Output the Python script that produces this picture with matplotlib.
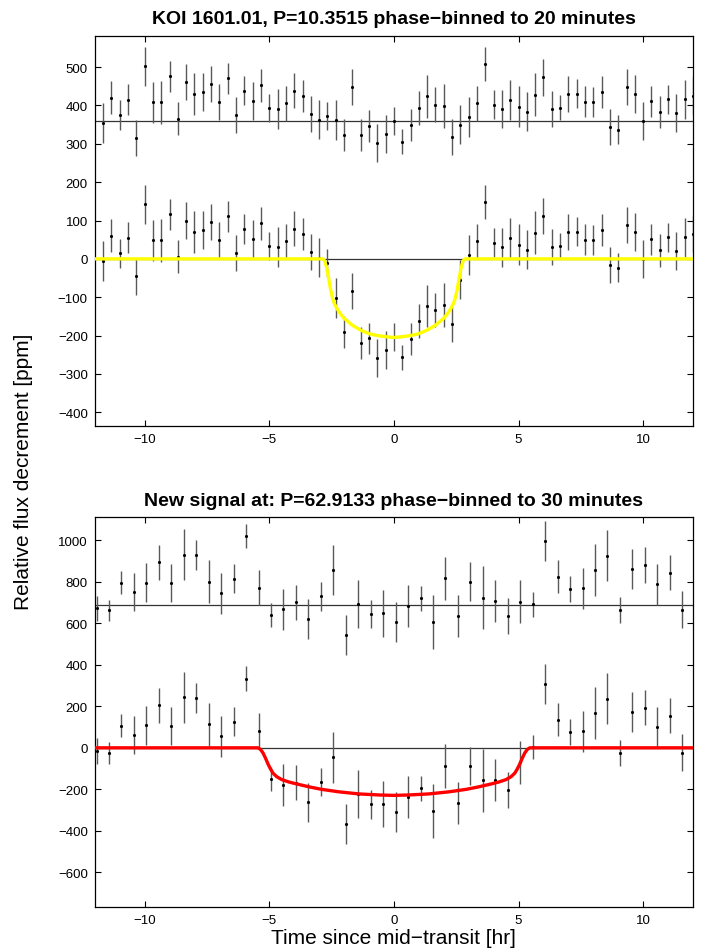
import numpy as np
import matplotlib
matplotlib.use("Agg")
import matplotlib.pyplot as plt

plt.rcParams['font.family'] = ['Liberation Sans', 'DejaVu Sans']

# ── KOI 1601.01, phase-binned to 20 minutes ─────────────────────────────────
t_koi = np.arange(-35, 37) / 3.0
flux_koi = [-6, 60, 14, 55, -46, 142, 48, 48, 116, 6,
            100, 70, 75, 96, 50, 111, 15, 79, 52, 93,
            33, 31, 46, 79, 65, 19, 3, -10, -103, -190,
            -83, -220, -207, -258, -237, -204, -257, -210, -163, -123,
            -134, -121, -170, -54, 9, 46, 148, 42, 30, 55,
            37, 24, 68, 113, 30, 34, 70, 71, 50, 49,
            75, -17, -23, 88, 70, 0, 51, 23, 56, 20,
            56, 65]
resid_koi = [-6, 60, 14, 55, -46, 142, 48, 48, 116, 6,
             100, 70, 75, 96, 50, 111, 15, 79, 52, 93,
             33, 31, 46, 79, 65, 19, 3, 12, 3, -38,
             88, -37, -14, -58, -34, 0, -54, -10, 33, 64,
             42, 38, -43, -10, 9, 46, 148, 42, 30, 55,
             37, 24, 68, 113, 30, 34, 70, 71, 50, 49,
             75, -17, -23, 88, 70, 0, 51, 23, 56, 20,
             56, 65]
err_koi = [52, 43, 39, 41, 47, 51, 53, 57, 41, 44,
           47, 55, 50, 46, 47, 41, 47, 39, 49, 43,
           37, 53, 46, 46, 42, 47, 51, 37, 52, 42,
           47, 42, 41, 50, 49, 36, 32, 42, 44, 56,
           45, 58, 47, 50, 52, 46, 44, 38, 50, 52,
           53, 51, 56, 47, 47, 33, 48, 37, 41, 39,
           42, 47, 38, 47, 49, 49, 40, 43, 37, 50,
           51, 48]
offset_koi = 360
model_koi_t = [-12, -2.85, -2.78, -2.70, -2.62, -2.54, -2.46, -2.38, -2.28, -2.15,
               -2.0, -1.67, -1.33, -1.0, -0.67, -0.33, 0,
               0.33, 0.67, 1.0, 1.33, 1.67, 2.0, 2.15, 2.28, 2.38,
               2.46, 2.54, 2.62, 2.70, 2.78, 2.85, 12]
model_koi_f = [0, 0, -5, -22, -50, -80, -103, -118, -130, -143,
               -155, -173, -186, -195, -200, -203, -205,
               -203, -200, -195, -186, -173, -155, -143, -130, -118,
               -103, -80, -50, -22, -5, 0, 0]

# ── new signal, phase-binned to 30 minutes ──────────────────────────────────
t_new = -11.93 + 0.5 * np.arange(48)
flux_new = [-17, -26, 107, 62, 108, 205, 107, 243, 241, 113,
            56, 126, 333, 80, -149, -179, -168, -263, -165, -46,
            -367, -222, -272, -271, -309, -237, -195, -305, -88, -264,
            -88, -157, -154, -205, -69, 4, 306, 136, 76, 80,
            168, 237, -26, 173, 193, 100, 155, -23]
resid_new = [-17, -26, 107, 62, 108, 205, 107, 243, 241, 113,
             56, 126, 333, 84, -47, -21, 12, -68, 41, 168,
             -146, 3, -44, -41, -81, -5, 32, -81, 128, -53,
             113, 35, 20, -53, 16, 4, 306, 136, 76, 80,
             168, 237, -26, 173, 193, 100, 155, -23]
err_new = [62, 52, 56, 92, 95, 84, 92, 124, 73, 102,
           98, 69, 59, 86, 58, 100, 83, 95, 68, 122,
           96, 116, 69, 112, 96, 100, 60, 130, 105, 101,
           93, 152, 101, 87, 103, 60, 96, 79, 63, 98,
           126, 123, 62, 98, 85, 98, 84, 90]
offset_new = 688
model_new_t = [-12, -5.45, -5.35, -5.25, -5.15, -5.05, -4.95, -4.85, -4.7, -4.5,
               -4.2, -3.9, -3.4, -2.9, -2.2, -1.4, -0.6, 0,
               0.6, 1.4, 2.2, 2.9, 3.4, 3.9, 4.2, 4.5, 4.7, 4.85,
               4.95, 5.05, 5.15, 5.25, 5.35, 5.45, 12]
model_new_f = [0, 0, -8, -25, -50, -78, -102, -122, -139, -153,
               -165, -174, -188, -200, -212, -222, -227, -229,
               -227, -222, -212, -200, -188, -174, -165, -153, -139, -122,
               -102, -78, -50, -25, -8, 0, 0]


def plot_binned(ax, t, y, err):
    y = np.asarray(y, float)
    err = np.asarray(err, float)
    ax.vlines(t, y - err, y + err, color='0.35', lw=1.0, zorder=2)
    ax.plot(t, y, '.', color='k', ms=2.5, zorder=3)


def draw_panel(ax, t, flux, resid, err, offset, mt, mf, color, title):
    ax.axhline(0, color='0.2', lw=0.9, zorder=1)
    ax.axhline(offset, color='0.2', lw=0.9, zorder=1)
    plot_binned(ax, t, flux, err)
    plot_binned(ax, t, np.asarray(resid) + offset, err)
    ax.plot(mt, mf, color=color, lw=2.4, zorder=4)
    ax.set_xlim(-12, 12)
    ax.set_xticks([-10, -5, 0, 5, 10])
    ax.set_title(title, fontsize=14, fontweight='bold', pad=9)
    ax.tick_params(direction='in', top=True, right=True, length=4,
                   width=0.8, labelsize=9.5, pad=5)
    for s in ax.spines.values():
        s.set_linewidth(0.9)


fig = plt.figure(figsize=(7.08, 9.53), dpi=100)
ax1 = fig.add_axes([0.1339, 0.5519, 0.8449, 0.4096])
ax2 = fig.add_axes([0.1339, 0.0469, 0.8449, 0.4092])

draw_panel(ax1, t_koi, flux_koi, resid_koi, err_koi, offset_koi,
           model_koi_t, model_koi_f, '#FFFF00',
           'KOI 1601.01, P=10.3515 phase\u2212binned to 20 minutes')
ax1.set_ylim(-436, 582)
ax1.set_yticks(np.arange(-400, 501, 100))

draw_panel(ax2, t_new, flux_new, resid_new, err_new, offset_new,
           model_new_t, model_new_f, '#FF0000',
           'New signal at: P=62.9133 phase\u2212binned to 30 minutes')
ax2.set_ylim(-768, 1110)
ax2.set_yticks(np.arange(-600, 1001, 200))
ax2.set_xlabel('Time since mid\u2212transit [hr]', fontsize=15, labelpad=1)

fig.text(0.033, 0.505, 'Relative flux decrement [ppm]', rotation=90,
         ha='center', va='center', fontsize=15)

fig.savefig('out.png', dpi=100)
